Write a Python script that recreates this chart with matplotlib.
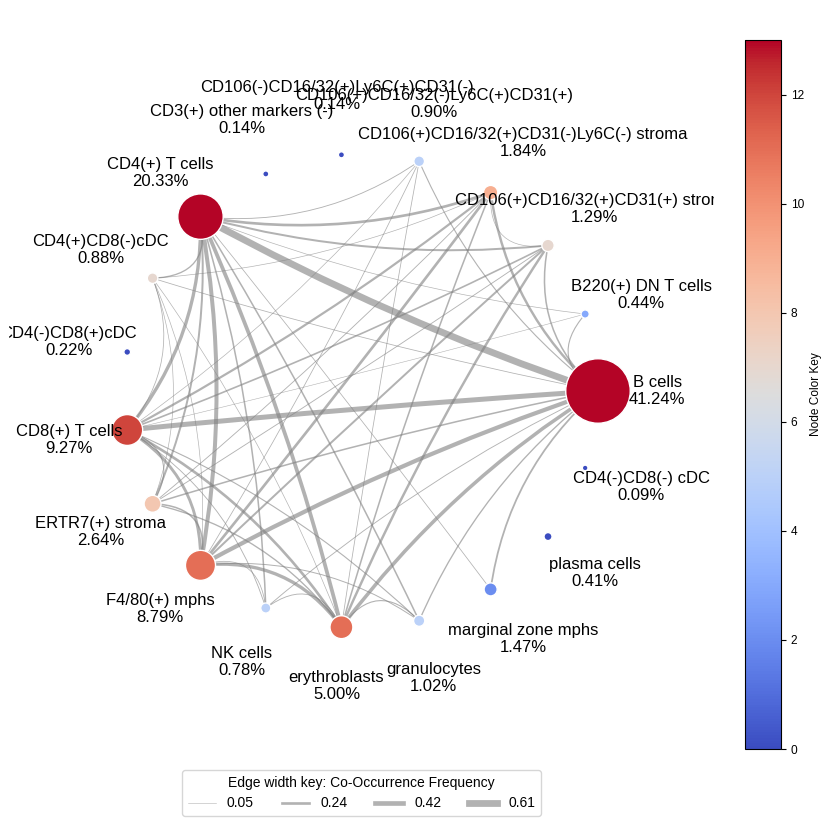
import numpy as np
import matplotlib
matplotlib.use('Agg')
import matplotlib.pyplot as plt
from matplotlib.path import Path
from matplotlib.patches import PathPatch
from matplotlib.lines import Line2D
from matplotlib import cm, colors

plt.rcParams['font.family'] = ['Liberation Sans', 'DejaVu Sans']

names = [
    "B cells", "B220(+) DN T cells", "CD106(+)CD16/32(+)CD31(+) stroma",
    "CD106(+)CD16/32(+)CD31(-)Ly6C(-) stroma", "CD106(+)CD16/32(-)Ly6C(+)CD31(+)",
    "CD106(-)CD16/32(+)Ly6C(+)CD31(-)", "CD3(+) other markers (-)", "CD4(+) T cells",
    "CD4(+)CD8(-)cDC", "CD4(-)CD8(+)cDC", "CD8(+) T cells", "ERTR7(+) stroma",
    "F4/80(+) mphs", "NK cells", "erythroblasts", "granulocytes",
    "marginal zone mphs", "plasma cells", "CD4(-)CD8(-) cDC",
]
pcts = [41.24, 0.44, 1.29, 1.84, 0.90, 0.14, 0.14, 20.33, 0.88, 0.22,
        9.27, 2.64, 8.79, 0.78, 5.00, 1.02, 1.47, 0.41, 0.09]
color_vals = [13, 3, 7, 9, 5, 0, 0, 13, 7, 0, 12, 8, 11, 5, 11, 5, 2, 0, 0]

edge_src = [0, 0, 0, 0, 0, 0, 0, 0, 0, 0, 0, 0, 0,
            7, 7, 7, 7, 7, 7, 7, 7, 7, 7, 7, 7,
            10, 10, 10, 10, 10, 10, 10, 10, 10, 10,
            12, 12, 12, 12, 12, 12, 12, 12,
            14, 14, 14, 14, 14, 14, 14,
            2, 2, 3, 3, 8]
edge_dst = [1, 2, 3, 4, 7, 8, 10, 11, 12, 13, 14, 15, 16,
            1, 2, 3, 4, 8, 10, 11, 12, 13, 14, 15, 16,
            1, 2, 3, 4, 8, 11, 12, 13, 14, 15,
            2, 3, 4, 8, 11, 13, 14, 15,
            2, 3, 4, 8, 11, 13, 15,
            3, 11, 8, 11, 11]
edge_w = [0.10, 0.14, 0.22, 0.10, 0.61, 0.07, 0.45, 0.14, 0.38, 0.08, 0.32, 0.12, 0.16,
          0.06, 0.18, 0.24, 0.08, 0.12, 0.30, 0.18, 0.36, 0.14, 0.34, 0.14, 0.07,
          0.05, 0.15, 0.20, 0.06, 0.07, 0.10, 0.26, 0.08, 0.24, 0.10,
          0.18, 0.24, 0.07, 0.06, 0.14, 0.07, 0.30, 0.09,
          0.22, 0.14, 0.07, 0.06, 0.12, 0.08, 0.10,
          0.06, 0.08, 0.06, 0.08, 0.06]
legend_w = [0.05, 0.24, 0.42, 0.61]
LW = 8.0

fig = plt.figure(figsize=(8.32, 8.21), dpi=100)
ax = fig.add_axes([9/832, 72/821, 705/832, 712/821])
ax.set_xlim(-352/237, 353/237)
ax.set_ylim(-358/237, 354/237)
ax.axis('off')

n = len(names)
ang = 2*np.pi*np.arange(n)/n
xs, ys = np.cos(ang), np.sin(ang)

for s, d, w in zip(edge_src, edge_dst, edge_w):
    p0 = (xs[s], ys[s]); p2 = (xs[d], ys[d])
    c = (0.8*(p0[0]+p2[0])/2, 0.8*(p0[1]+p2[1])/2)
    path = Path([p0, c, p2], [Path.MOVETO, Path.CURVE3, Path.CURVE3])
    ax.add_patch(PathPatch(path, facecolor='none', edgecolor='gray', alpha=0.6,
                           lw=w*LW, zorder=1, capstyle='butt'))

norm = colors.Normalize(0, 13)
cmap = plt.get_cmap('coolwarm')
ax.scatter(xs, ys, s=12 + np.array(pcts)*52, c=color_vals, cmap=cmap, norm=norm,
           edgecolors='white', linewidths=1, zorder=2)
for i in range(n):
    ax.text(1.25*xs[i], 1.25*ys[i], f"{names[i]}\n{pcts[i]:.2f}%", ha='center',
            va='center', fontsize=12, clip_on=True, zorder=3)

cax = fig.add_axes([745/832, 72/821, 36/832, 709/821])
sm = cm.ScalarMappable(norm=norm, cmap=cmap)
cb = fig.colorbar(sm, cax=cax)
cb.set_label('Node Color Key', fontsize=8.6)
cb.ax.tick_params(labelsize=8.6)

handles = [Line2D([], [], color='gray', alpha=0.6, lw=w*LW) for w in legend_w]
labels = [f"{w:.2f}" for w in legend_w]
ax.legend(handles, labels, title='Edge width key: Co-Occurrence Frequency',
          loc='upper center', bbox_to_anchor=(0.5, -14/712), ncol=4,
          fontsize=10, title_fontsize=10)

fig.savefig('out.png', dpi=100)
